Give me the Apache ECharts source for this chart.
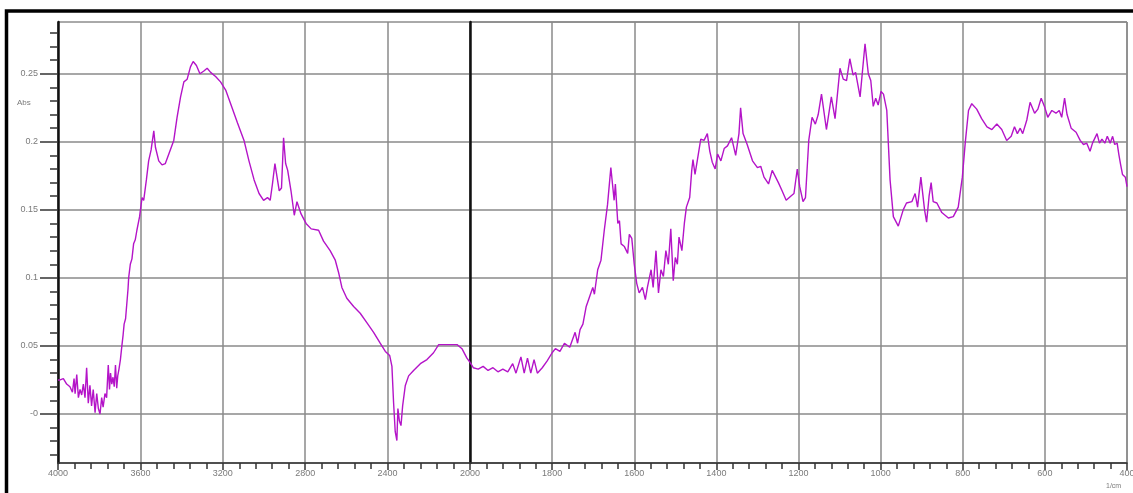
<!DOCTYPE html>
<html>
<head>
<meta charset="utf-8">
<script src="https://cdn.jsdelivr.net/npm/echarts@6/dist/echarts.min.js"></script>
<style>
  html, body { margin: 0; padding: 0; background: #fff; overflow: hidden; }
  #chart { width: 1133px; height: 493px; }
</style>
</head>
<body>
<div id="chart"></div>
<script>
// FTIR spectrum, absorbance vs wavenumber (1/cm); scale changes at 2000
const spectrumHigh = [ // 4000 -> 2000 cm-1
  [4000, 0.025], [3990, 0.025], [3974, 0.026], [3958, 0.022], [3942, 0.020], [3930, 0.016],
  [3922, 0.026], [3917, 0.015], [3909, 0.029], [3901, 0.012], [3893, 0.018], [3885, 0.014],
  [3877, 0.022], [3869, 0.012], [3861, 0.034], [3853, 0.008], [3845, 0.021], [3837, 0.006],
  [3829, 0.018], [3820, 0.001], [3812, 0.015], [3804, 0.004], [3796, 0.0], [3788, 0.012],
  [3781, 0.005], [3772, 0.015], [3764, 0.012], [3756, 0.036], [3750, 0.018], [3745, 0.030],
  [3739, 0.022], [3733, 0.027], [3727, 0.020], [3721, 0.036], [3715, 0.019], [3710, 0.028],
  [3704, 0.033], [3697, 0.040], [3690, 0.050], [3684, 0.058], [3679, 0.066], [3672, 0.070],
  [3666, 0.081], [3660, 0.092], [3657, 0.100], [3649, 0.110], [3641, 0.114], [3633, 0.125],
  [3625, 0.128], [3617, 0.135], [3604, 0.145], [3592, 0.159], [3584, 0.157], [3571, 0.172],
  [3560, 0.186], [3548, 0.194], [3535, 0.208], [3527, 0.196], [3511, 0.186], [3495, 0.183],
  [3479, 0.184], [3462, 0.191], [3438, 0.201], [3422, 0.218], [3405, 0.233], [3389, 0.244],
  [3373, 0.246], [3357, 0.255], [3344, 0.259], [3328, 0.256], [3311, 0.250], [3292, 0.252],
  [3276, 0.254], [3259, 0.251], [3235, 0.248], [3211, 0.244], [3186, 0.238], [3162, 0.228],
  [3129, 0.214], [3097, 0.201], [3073, 0.186], [3048, 0.172], [3024, 0.162], [3002, 0.157],
  [2983, 0.159], [2970, 0.157], [2959, 0.169], [2947, 0.184], [2938, 0.185], [2926, 0.164],
  [2915, 0.166], [2905, 0.203], [2895, 0.184], [2885, 0.179], [2869, 0.164], [2853, 0.146],
  [2840, 0.156], [2820, 0.147], [2796, 0.140], [2771, 0.136], [2735, 0.135], [2711, 0.127],
  [2679, 0.120], [2654, 0.113], [2638, 0.104], [2622, 0.093], [2598, 0.085], [2565, 0.079],
  [2533, 0.074], [2500, 0.067], [2468, 0.060], [2436, 0.052], [2411, 0.046], [2390, 0.043],
  [2379, 0.035], [2371, 0.0085], [2363, -0.013], [2355, -0.0195], [2350, 0.004], [2343, -0.005],
  [2335, -0.0085], [2327, 0.006], [2314, 0.021], [2298, 0.028], [2274, 0.032], [2241, 0.037],
  [2209, 0.040], [2177, 0.045], [2152, 0.051], [2112, 0.051], [2063, 0.051], [2039, 0.048],
  [2015, 0.041], [2000, 0.038]
];

const spectrumLow = [ // 2000 -> 400 cm-1
  [2000, 0.038], [1992, 0.034], [1980, 0.033], [1968, 0.035], [1956, 0.032], [1944, 0.034],
  [1932, 0.031], [1920, 0.033], [1908, 0.031], [1896, 0.037], [1888, 0.030], [1876, 0.042],
  [1868, 0.030], [1860, 0.041], [1852, 0.030], [1844, 0.040], [1836, 0.030], [1824, 0.034],
  [1812, 0.039], [1800, 0.045], [1792, 0.048], [1781, 0.046], [1770, 0.052], [1757, 0.049],
  [1744, 0.060], [1738, 0.052], [1732, 0.062], [1725, 0.066], [1717, 0.079], [1709, 0.086],
  [1701, 0.093], [1697, 0.088], [1689, 0.106], [1681, 0.113], [1673, 0.135], [1665, 0.154],
  [1657, 0.181], [1653, 0.169], [1649, 0.157], [1646, 0.169], [1640, 0.140], [1636, 0.142],
  [1632, 0.125], [1624, 0.123], [1616, 0.118], [1612, 0.132], [1606, 0.129], [1600, 0.110],
  [1594, 0.096], [1588, 0.089], [1580, 0.093], [1573, 0.084], [1568, 0.093], [1559, 0.106],
  [1554, 0.093], [1547, 0.120], [1541, 0.089], [1535, 0.106], [1529, 0.101], [1523, 0.120],
  [1517, 0.110], [1511, 0.136], [1505, 0.098], [1500, 0.115], [1495, 0.110], [1491, 0.130],
  [1484, 0.120], [1478, 0.140], [1473, 0.152], [1465, 0.159], [1460, 0.179], [1457, 0.187],
  [1452, 0.176], [1446, 0.187], [1438, 0.202], [1430, 0.201], [1422, 0.206], [1416, 0.193],
  [1410, 0.185], [1403, 0.180], [1397, 0.191], [1389, 0.186], [1381, 0.195], [1373, 0.197],
  [1363, 0.203], [1353, 0.190], [1345, 0.206], [1341, 0.225], [1335, 0.206], [1325, 0.198],
  [1312, 0.186], [1300, 0.181], [1292, 0.182], [1284, 0.174], [1273, 0.169], [1264, 0.179],
  [1260, 0.180], [1249, 0.170], [1240, 0.164], [1230, 0.157], [1219, 0.160], [1211, 0.162],
  [1203, 0.180], [1197, 0.167], [1189, 0.156], [1183, 0.159], [1175, 0.201], [1167, 0.218],
  [1159, 0.213], [1152, 0.220], [1144, 0.235], [1132, 0.209], [1120, 0.233], [1111, 0.217],
  [1099, 0.254], [1091, 0.246], [1083, 0.245], [1075, 0.261], [1067, 0.249], [1061, 0.251],
  [1050, 0.233], [1038, 0.272], [1030, 0.250], [1024, 0.245], [1018, 0.226], [1012, 0.232],
  [1006, 0.227], [999, 0.237], [993, 0.235], [985, 0.223], [977, 0.172], [969, 0.145],
  [957, 0.138], [945, 0.150], [937, 0.155], [924, 0.156], [916, 0.162], [910, 0.152],
  [902, 0.174], [893, 0.150], [888, 0.141], [882, 0.160], [877, 0.170], [872, 0.156],
  [863, 0.155], [851, 0.148], [835, 0.144], [823, 0.145], [811, 0.152], [801, 0.174],
  [794, 0.199], [786, 0.223], [778, 0.228], [766, 0.224], [754, 0.217], [741, 0.211],
  [729, 0.209], [717, 0.213], [705, 0.209], [693, 0.201], [682, 0.204], [674, 0.211],
  [667, 0.206], [660, 0.210], [654, 0.206], [644, 0.216], [636, 0.229], [625, 0.221],
  [617, 0.224], [609, 0.232], [601, 0.226], [593, 0.218], [583, 0.223], [573, 0.221],
  [565, 0.223], [559, 0.218], [552, 0.232], [546, 0.220], [536, 0.210], [524, 0.207],
  [514, 0.201], [506, 0.198], [498, 0.199], [490, 0.193], [484, 0.199], [473, 0.206],
  [467, 0.199], [461, 0.202], [454, 0.199], [448, 0.204], [441, 0.199], [435, 0.204],
  [430, 0.198], [424, 0.199], [420, 0.191], [416, 0.184], [411, 0.176], [404, 0.174],
  [400, 0.167]
];

const yMajorValues = [0, 0.05, 0.1, 0.15, 0.2, 0.25];
const yMajorLabels = ['-0', '0.05', '0.1', '0.15', '0.2', '0.25'];
const yMinorValues = [-0.03, -0.02, -0.01, 0, 0.01, 0.02, 0.03, 0.04, 0.05, 0.06, 0.07, 0.08,
  0.09, 0.1, 0.11, 0.12, 0.13, 0.14, 0.15, 0.16, 0.17, 0.18, 0.19, 0.2, 0.21, 0.22, 0.23,
  0.24, 0.25, 0.26, 0.27, 0.28];

const Y_MIN = -0.036;
const Y_MAX = 0.288;
const LINE_COLOR = '#b414c8';
const GRID_COLOR = '#8a8a8a';
const LABEL_COLOR = '#7a7a7a';
const labelFont = { color: LABEL_COLOR, fontSize: 9, fontFamily: 'Liberation Sans, Arial, sans-serif' };

const chart = echarts.init(document.getElementById('chart'), null, { renderer: 'canvas' });

const gridBox = {
    top: 22, height: 441, show: true, borderColor: '#555', borderWidth: 1,
    backgroundColor: '#fff', containLabel: false, outerBoundsMode: 'none'
};

function xAxisFor(gridIndex, min, max, interval, showMax) {
    return {
        type: 'value', gridIndex, min, max, interval, inverse: true,
        axisLine: { show: true, onZero: false, lineStyle: { color: '#333', width: 1.5 } },
        axisTick: { show: true, length: 7, lineStyle: { color: '#333', width: 1.5 } },
        minorTick: { show: true, splitNumber: 5, length: 6, lineStyle: { color: '#333', width: 1.5 } },
        axisLabel: Object.assign({
            margin: 6, showMaxLabel: showMax, showMinLabel: true, hideOverlap: false,
            formatter: v => String(v)
        }, labelFont),
        splitLine: { show: true, lineStyle: { color: GRID_COLOR, width: 1.5 } }
    };
}

chart.setOption({
    animation: false,
    backgroundColor: '#fff',
    grid: [
        Object.assign({ left: 58, width: 412 }, gridBox),
        Object.assign({ left: 470, width: 657 }, gridBox)
    ],
    xAxis: [
        xAxisFor(0, 2000, 4000, 400, true),
        xAxisFor(1, 400, 2000, 200, false)
    ],
    yAxis: [
        { // major ticks, labels, horizontal grid of left part
            type: 'value', gridIndex: 0, min: Y_MIN, max: Y_MAX, position: 'left',
            axisLine: { show: true, onZero: false, lineStyle: { color: '#111', width: 2.5 } },
            axisTick: { show: true, length: 18, customValues: yMajorValues, lineStyle: { color: '#333', width: 1.5 } },
            axisLabel: Object.assign({
                margin: 20, customValues: yMajorValues,
                formatter: v => yMajorLabels[yMajorValues.findIndex(m => Math.abs(m - v) < 1e-9)] || ''
            }, labelFont),
            splitLine: { show: true, lineStyle: { color: GRID_COLOR, width: 1.5 } }
        },
        { // minor ticks on the left axis
            type: 'value', gridIndex: 0, min: Y_MIN, max: Y_MAX, position: 'left',
            axisLine: { show: false },
            axisTick: { show: true, length: 8, customValues: yMinorValues, lineStyle: { color: '#333', width: 1.5 } },
            axisLabel: { show: false },
            splitLine: { show: false }
        },
        { // right part: thick line at 2000 and horizontal grid
            type: 'value', gridIndex: 1, min: Y_MIN, max: Y_MAX, position: 'left',
            axisLine: { show: true, onZero: false, lineStyle: { color: '#111', width: 2.5 } },
            axisTick: { show: false },
            axisLabel: { show: false },
            splitLine: { show: true, lineStyle: { color: GRID_COLOR, width: 1.5 } }
        }
    ],
    series: [
        {
            type: 'line', xAxisIndex: 0, yAxisIndex: 0, data: spectrumHigh,
            showSymbol: false, symbol: 'none', smooth: false, z: 5,
            lineStyle: { color: LINE_COLOR, width: 1.4 }
        },
        {
            type: 'line', xAxisIndex: 1, yAxisIndex: 2, data: spectrumLow,
            showSymbol: false, symbol: 'none', smooth: false, z: 5,
            lineStyle: { color: LINE_COLOR, width: 1.4 }
        }
    ],
    graphic: [
        {
            type: 'rect', silent: true, z: 100,
            shape: { x: 6.5, y: 11, width: 1300, height: 600 },
            style: { fill: 'none', stroke: '#000', lineWidth: 3.5 }
        },
        {
            type: 'text', left: 17, top: 99, silent: true,
            style: { text: 'Abs', fill: LABEL_COLOR, fontSize: 8, fontFamily: 'Liberation Sans, Arial, sans-serif' }
        },
        {
            type: 'text', left: 1106, top: 483, silent: true,
            style: { text: '1/cm', fill: LABEL_COLOR, fontSize: 7, fontFamily: 'Liberation Sans, Arial, sans-serif' }
        }
    ]
});
</script>
</body>
</html>
